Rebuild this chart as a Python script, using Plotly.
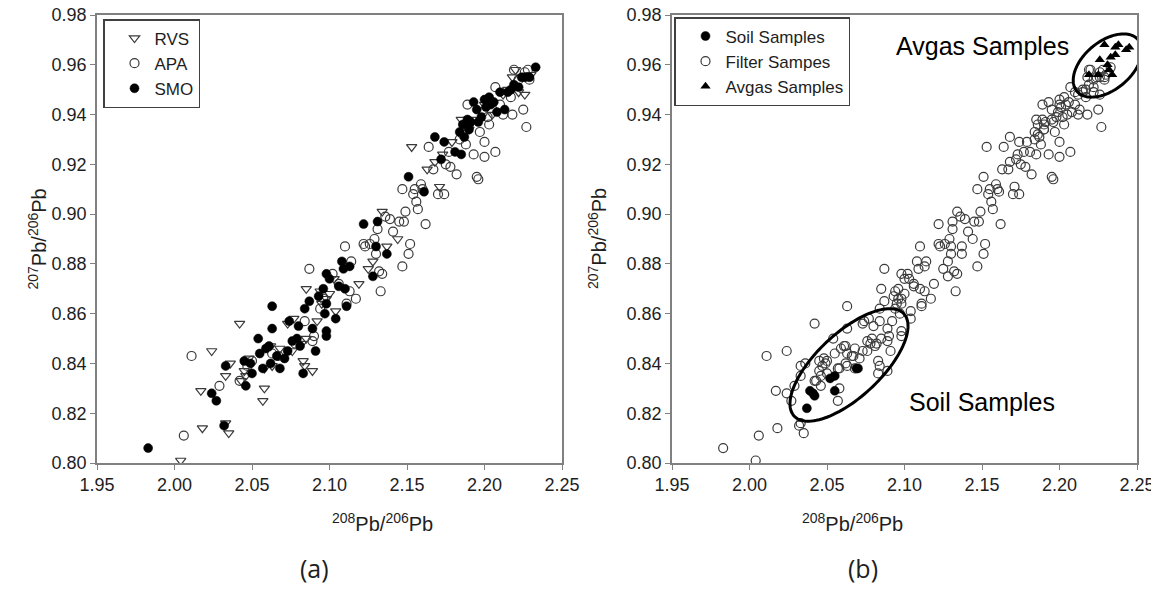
import numpy as np
import plotly.graph_objects as go

# ---------------- data ----------------
rvs_x = [2.004, 2.018, 2.035, 2.033, 2.017, 2.024, 2.033, 2.036, 2.042, 2.043, 2.045, 2.046,
         2.048, 2.057, 2.058, 2.058, 2.062, 2.063, 2.068, 2.073, 2.077, 2.076, 2.082, 2.083,
         2.084, 2.085, 2.085, 2.089, 2.092, 2.094, 2.095, 2.098, 2.100, 2.103, 2.104, 2.119,
         2.125, 2.128, 2.134, 2.137, 2.144, 2.153, 2.163, 2.168, 2.171, 2.173, 2.179, 2.185,
         2.190, 2.195, 2.200, 2.205, 2.212, 2.215, 2.218, 2.220, 2.222, 2.226, 2.230]
rvs_y = [0.801, 0.814, 0.812, 0.816, 0.829, 0.845, 0.835, 0.840, 0.856, 0.833, 0.837, 0.835,
         0.842, 0.825, 0.830, 0.838, 0.847, 0.839, 0.846, 0.856, 0.858, 0.845, 0.848, 0.841,
         0.839, 0.870, 0.850, 0.837, 0.857, 0.869, 0.864, 0.866, 0.868, 0.874, 0.861, 0.872,
         0.878, 0.881, 0.901, 0.887, 0.890, 0.927, 0.918, 0.921, 0.911, 0.924, 0.929, 0.938,
         0.934, 0.938, 0.944, 0.940, 0.948, 0.950, 0.955, 0.958, 0.949, 0.948, 0.956]

apa_x = [2.006, 2.011, 2.029, 2.042, 2.047, 2.050, 2.063, 2.067, 2.078, 2.084, 2.087, 2.089,
         2.090, 2.094, 2.096, 2.102, 2.106, 2.110, 2.111, 2.113, 2.114, 2.117, 2.122, 2.123,
         2.126, 2.129, 2.130, 2.131, 2.132, 2.133, 2.134, 2.136, 2.139, 2.141, 2.145, 2.147,
         2.147, 2.148, 2.149, 2.151, 2.152, 2.154, 2.155, 2.156, 2.157, 2.159, 2.160, 2.162,
         2.164, 2.167, 2.170, 2.174, 2.175, 2.177, 2.178, 2.182, 2.184, 2.186, 2.188, 2.189,
         2.190, 2.193, 2.195, 2.196, 2.197, 2.199, 2.200, 2.200, 2.202, 2.203, 2.207, 2.207,
         2.210, 2.212, 2.217, 2.218, 2.219, 2.222, 2.225, 2.226, 2.227, 2.228, 2.229]
apa_y = [0.811, 0.843, 0.831, 0.833, 0.839, 0.841, 0.844, 0.843, 0.848, 0.857, 0.878, 0.849,
         0.851, 0.862, 0.866, 0.876, 0.872, 0.887, 0.864, 0.869, 0.881, 0.866, 0.888, 0.887,
         0.888, 0.890, 0.884, 0.894, 0.877, 0.869, 0.876, 0.899, 0.898, 0.893, 0.897, 0.910,
         0.879, 0.897, 0.901, 0.884, 0.888, 0.908, 0.910, 0.905, 0.902, 0.912, 0.910, 0.896,
         0.927, 0.918, 0.908, 0.908, 0.920, 0.925, 0.919, 0.916, 0.930, 0.932, 0.928, 0.944,
         0.936, 0.924, 0.915, 0.914, 0.933, 0.941, 0.929, 0.923, 0.939, 0.936, 0.925, 0.951,
         0.944, 0.940, 0.947, 0.940, 0.958, 0.954, 0.942, 0.957, 0.935, 0.958, 0.954]

smo_x = [1.983, 2.024, 2.027, 2.032, 2.033, 2.045, 2.046, 2.049, 2.050, 2.054, 2.055, 2.057,
         2.059, 2.061, 2.062, 2.063, 2.063, 2.066, 2.068, 2.071, 2.073, 2.074, 2.076, 2.079,
         2.080, 2.081, 2.083, 2.084, 2.087, 2.089, 2.091, 2.093, 2.096, 2.097, 2.098, 2.098,
         2.098, 2.098, 2.100, 2.104, 2.106, 2.108, 2.109, 2.110, 2.111, 2.113, 2.122, 2.128,
         2.130, 2.131, 2.137, 2.151, 2.161, 2.168, 2.172, 2.174, 2.181, 2.184, 2.185, 2.186,
         2.187, 2.189, 2.190, 2.191, 2.193, 2.195, 2.196, 2.198, 2.200, 2.201, 2.203, 2.204,
         2.206, 2.208, 2.210, 2.213, 2.215, 2.217, 2.219, 2.222, 2.224, 2.226, 2.229, 2.233]
smo_y = [0.806, 0.828, 0.825, 0.815, 0.839, 0.841, 0.831, 0.840, 0.836, 0.850, 0.844, 0.838,
         0.846, 0.847, 0.840, 0.854, 0.863, 0.843, 0.838, 0.842, 0.845, 0.857, 0.849, 0.850,
         0.855, 0.847, 0.836, 0.862, 0.865, 0.854, 0.845, 0.867, 0.870, 0.860, 0.864, 0.876,
         0.853, 0.851, 0.874, 0.858, 0.871, 0.881, 0.878, 0.870, 0.863, 0.879, 0.896, 0.875,
         0.887, 0.897, 0.884, 0.915, 0.909, 0.931, 0.922, 0.929, 0.925, 0.933, 0.924, 0.936,
         0.931, 0.938, 0.934, 0.937, 0.945, 0.942, 0.937, 0.939, 0.946, 0.943, 0.947, 0.944,
         0.945, 0.941, 0.949, 0.942, 0.949, 0.950, 0.952, 0.951, 0.955, 0.955, 0.955, 0.959]

soil_x = [2.037, 2.039, 2.041, 2.042, 2.052, 2.055, 2.055, 2.069, 2.070]
soil_y = [0.822, 0.829, 0.828, 0.827, 0.834, 0.835, 0.829, 0.838, 0.838]

avgas_x = [2.229, 2.236, 2.238, 2.245, 2.243, 2.226, 2.233, 2.236, 2.231, 2.232, 2.234, 2.219, 2.225]
avgas_y = [0.968, 0.967, 0.968, 0.967, 0.966, 0.962, 0.963, 0.964, 0.960, 0.958, 0.956, 0.956, 0.956]

# Filter samples = all samples of panel (a)
filter_x = rvs_x + apa_x + smo_x
filter_y = rvs_y + apa_y + smo_y

x_ticks = [1.95, 2.00, 2.05, 2.10, 2.15, 2.20, 2.25]
y_ticks = [0.80, 0.82, 0.84, 0.86, 0.88, 0.90, 0.92, 0.94, 0.96, 0.98]

# ---------------- layout geometry ----------------
W, H = 1151, 598
pa_l, pa_r = 97, 562
pb_l, pb_r = 672, 1137
p_t, p_b = 15, 463
XR = [1.95, 2.25]
YR = [0.80, 0.98]
sx = (pa_r - pa_l) / (XR[1] - XR[0])   # px per x unit
sy = (p_b - p_t) / (YR[1] - YR[0])     # px per y unit

FONT = "Liberation Sans, Arial, sans-serif"
EDGE = "#3a3a3a"
TXT = "#1e1e1e"

fig = go.Figure()

open_circle = dict(symbol="circle-open", size=9, color=EDGE, line=dict(width=1.2, color=EDGE))
tri_open = dict(symbol="triangle-down-open", size=9, color=EDGE, line=dict(width=1.2, color=EDGE))
filled = dict(symbol="circle", size=9, color="black", line=dict(width=0.5, color="black"))

fig.add_trace(go.Scatter(x=rvs_x, y=rvs_y, mode="markers", name="RVS", marker=tri_open,
                         xaxis="x", yaxis="y", legend="legend"))
fig.add_trace(go.Scatter(x=apa_x, y=apa_y, mode="markers", name="APA", marker=open_circle,
                         xaxis="x", yaxis="y", legend="legend"))
fig.add_trace(go.Scatter(x=smo_x, y=smo_y, mode="markers", name="SMO", marker=filled,
                         xaxis="x", yaxis="y", legend="legend"))

fig.add_trace(go.Scatter(x=filter_x, y=filter_y, mode="markers", name="Filter Sampes",
                         marker=open_circle, xaxis="x2", yaxis="y2", legend="legend2",
                         legendrank=2))
fig.add_trace(go.Scatter(x=soil_x, y=soil_y, mode="markers", name="Soil Samples",
                         marker=filled, xaxis="x2", yaxis="y2", legend="legend2", legendrank=1))
fig.add_trace(go.Scatter(x=avgas_x, y=avgas_y, mode="markers", name="Avgas Samples",
                         marker=dict(symbol="triangle-up", size=9, color="black"),
                         xaxis="x2", yaxis="y2", legend="legend2", legendrank=3))


def ellipse_path(cx, cy, a_px, b_px, ang_deg, n=120):
    t = np.linspace(0, 2 * np.pi, n)
    th = np.radians(ang_deg)
    dx = a_px * np.cos(t) * np.cos(th) - b_px * np.sin(t) * np.sin(th)
    dy = a_px * np.cos(t) * np.sin(th) + b_px * np.sin(t) * np.cos(th)
    xs = cx + dx / sx
    ys = cy + dy / sy
    pts = [f"{x:.5f},{y:.5f}" for x, y in zip(xs, ys)]
    return "M " + " L ".join(pts) + " Z"


shapes = [
    dict(type="path", xref="x2", yref="y2", path=ellipse_path(2.0642, 0.8394, 75, 32, 43),
         line=dict(color="black", width=3)),
    dict(type="path", xref="x2", yref="y2", path=ellipse_path(2.2310, 0.9597, 40, 24, 40),
         line=dict(color="black", width=3)),
]

axis_common = dict(range=XR, tickvals=x_ticks, tickformat=".2f", showgrid=False, zeroline=False,
                   showline=True, linecolor="#808080", linewidth=1.5, mirror=True,
                   ticks="outside", ticklen=5, tickcolor="#808080", tickwidth=1,
                   ticklabeloverflow="allow",
                   tickfont=dict(family=FONT, size=18, color=TXT), automargin=False)
yaxis_common = dict(axis_common)
yaxis_common.update(range=YR, tickvals=y_ticks)

def px2paper_x(px):
    return px / W

def px2paper_y(py):
    return 1 - py / H

annotations = []
for cx_px, ycx_px in [((pa_l + pa_r) / 2, 22), ((pb_l + pb_r) / 2, pb_l - 75)]:
    annotations.append(dict(text="<sup>208</sup>Pb/<sup>206</sup>Pb", x=px2paper_x(cx_px),
                            y=px2paper_y(522), xref="paper", yref="paper", showarrow=False,
                            yanchor="middle", font=dict(family=FONT, size=20, color=TXT)))
    annotations.append(dict(text="<sup>207</sup>Pb/<sup>206</sup>Pb", x=px2paper_x(ycx_px),
                            y=px2paper_y((p_t + p_b) / 2), xref="paper", yref="paper",
                            showarrow=False, textangle=-90,
                            font=dict(family=FONT, size=20, color=TXT)))
annotations.append(dict(text="(a)", x=px2paper_x(298), y=px2paper_y(587), xref="paper",
                        yref="paper", showarrow=False,
                        font=dict(family="Open Sans, sans-serif", size=25, color=TXT)))
annotations.append(dict(text="(b)", x=px2paper_x(880), y=px2paper_y(587), xref="paper",
                        yref="paper", showarrow=False,
                        font=dict(family="Open Sans, sans-serif", size=25, color=TXT)))
annotations.append(dict(text="Avgas Samples", x=2.150, y=0.9675, xref="x2", yref="y2",
                        showarrow=False, font=dict(family=FONT, size=25, color="black")))
annotations.append(dict(text="Soil Samples", x=2.150, y=0.8247, xref="x2", yref="y2",
                        showarrow=False, font=dict(family=FONT, size=25, color="black")))

legend_common = dict(xanchor="left", yanchor="top", bgcolor="white", bordercolor="#404040",
                     borderwidth=1.5, font=dict(family=FONT, size=17, color=TXT),
                     tracegroupgap=0, itemclick=False, indentation=10)

fig.update_layout(
    width=W, height=H, margin=dict(l=0, r=0, t=0, b=0),
    paper_bgcolor="white", plot_bgcolor="white",
    xaxis=dict(axis_common, domain=[pa_l / W, pa_r / W], anchor="y"),
    yaxis=dict(yaxis_common, domain=[1 - p_b / H, 1 - p_t / H], anchor="x"),
    xaxis2=dict(axis_common, domain=[pb_l / W, pb_r / W], anchor="y2"),
    yaxis2=dict(yaxis_common, domain=[1 - p_b / H, 1 - p_t / H], anchor="x2"),
    legend=dict(legend_common, x=103 / W, y=1 - 19 / H),
    legend2=dict(legend_common, x=674 / W, y=1 - 17 / H),
    shapes=shapes,
    annotations=annotations,
    showlegend=True,
)

fig.write_html("out.html")
